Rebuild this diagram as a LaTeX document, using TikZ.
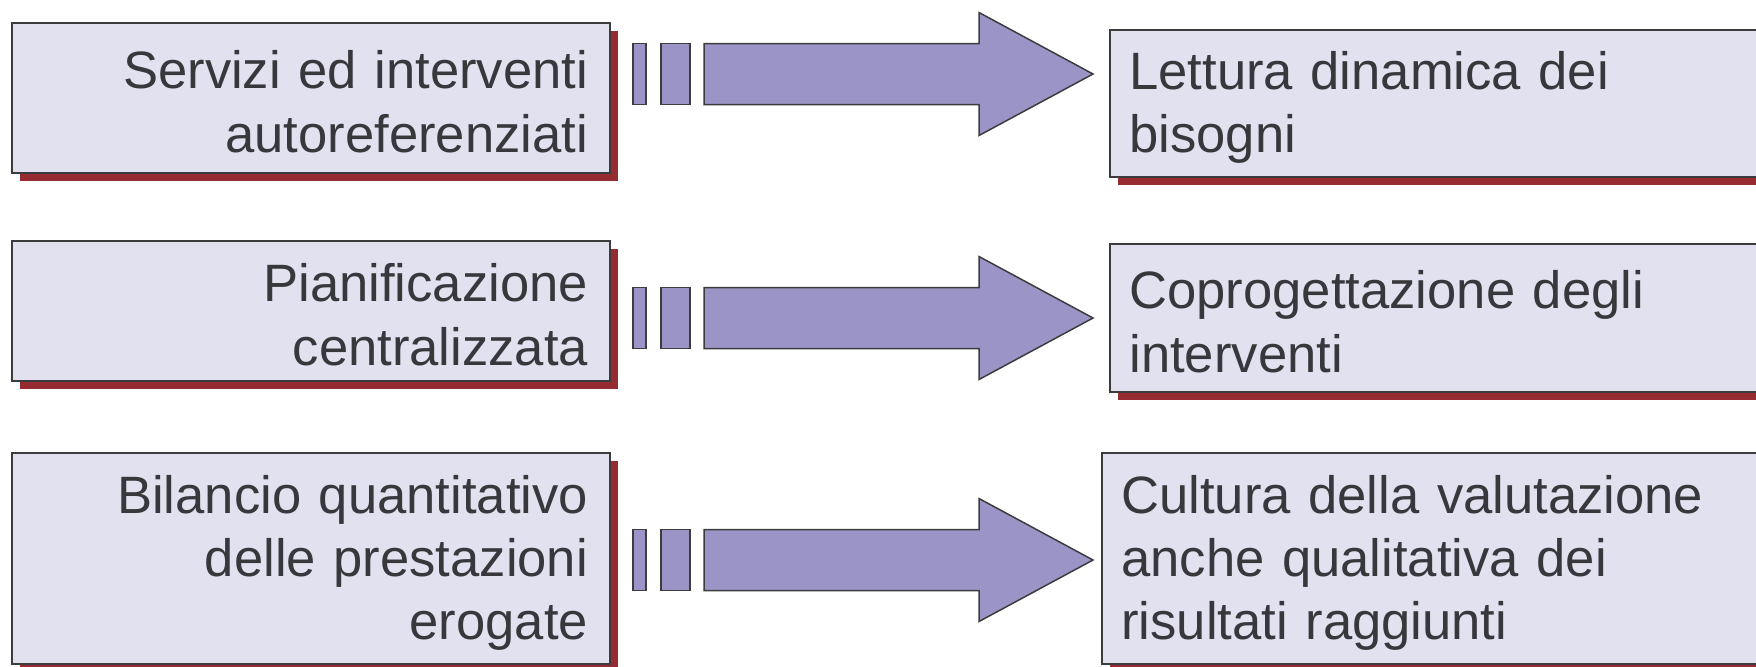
\documentclass[tikz,border=0pt]{standalone}
\usepackage{fontspec}
\setmainfont{Liberation Sans}
\usetikzlibrary{shadows}
\definecolor{boxfill}{HTML}{E1E1F0}
\definecolor{boxline}{HTML}{3C3C3C}
\definecolor{shred}{HTML}{972B32}
\definecolor{arrfill}{HTML}{9B95C7}
\definecolor{txt}{HTML}{38383C}
\begin{document}
\begin{tikzpicture}[x=0.5pt,y=-0.5pt,
  box/.style={draw=boxline, line width=0.75pt, fill=boxfill, rectangle,
    inner sep=0pt,
    drop shadow={shadow xshift=4pt, shadow yshift=-4pt, fill=shred, opacity=1}},
  lbox/.style={box, minimum width=299pt},
  rbox/.style={box, minimum width=350pt, anchor=west},
  tx/.style={inner ysep=0pt, font=\fontsize{26.3pt}{31.6pt}\selectfont, text=txt},
  ltext/.style={tx, inner xsep=11pt, text width=277pt, align=right},
  rtext/.style={tx, inner xsep=10pt, text width=330pt, align=left, anchor=west},
  blk/.style={draw=boxline, line width=0.75pt, fill=arrfill}]
\useasboundingbox (0,0) rectangle (1756,666);
% left boxes
\node[lbox, minimum height=75pt] (L1) at (311,98) {};
\node[lbox, minimum height=70pt] (L2) at (311,311) {};
\node[lbox, minimum height=105.5pt] (L3) at (311,558.5) {};
\node[ltext] (L1t) at ([yshift=-1.8pt]L1.center) {Servizi ed interventi\\autoreferenziati};
\node[ltext] (L2t) at ([yshift=-1.8pt]L2.center) {Pianificazione\\centralizzata};
\node[ltext] (L3t) at ([yshift=-2.2pt]L3.center) {Bilancio quantitativo\\delle prestazioni\\erogate};
% right boxes
\node[rbox, minimum height=73.5pt] (R1) at (1109,103.5) {};
\node[rbox, minimum height=74pt] (R2) at (1109,318) {};
\node[rbox, minimum height=105.5pt] (R3) at (1101,558.5) {};
\node[rtext] (R1t) at ([yshift=-1.8pt]R1.west) {Lettura dinamica dei\\bisogni};
\node[rtext] (R2t) at ([yshift=-1.8pt]R2.west) {Coprogettazione degli\\interventi};
\node[rtext] (R3t) at ([yshift=-2.2pt]R3.west) {Cultura della valutazione\\anche qualitativa dei\\risultati raggiunti};
% block arrows
\foreach \c in {74,318,560} {
  \draw[blk] (633,\c-30.5) rectangle (646,\c+30.5);
  \draw[blk] (661,\c-30.5) rectangle (690,\c+30.5);
  \draw[blk] (704,\c-30.5) -- (979,\c-30.5) -- (979,\c-61.5) -- (1093,\c)
    -- (979,\c+61.5) -- (979,\c+30.5) -- (704,\c+30.5) -- cycle;
}
\end{tikzpicture}
\end{document}
